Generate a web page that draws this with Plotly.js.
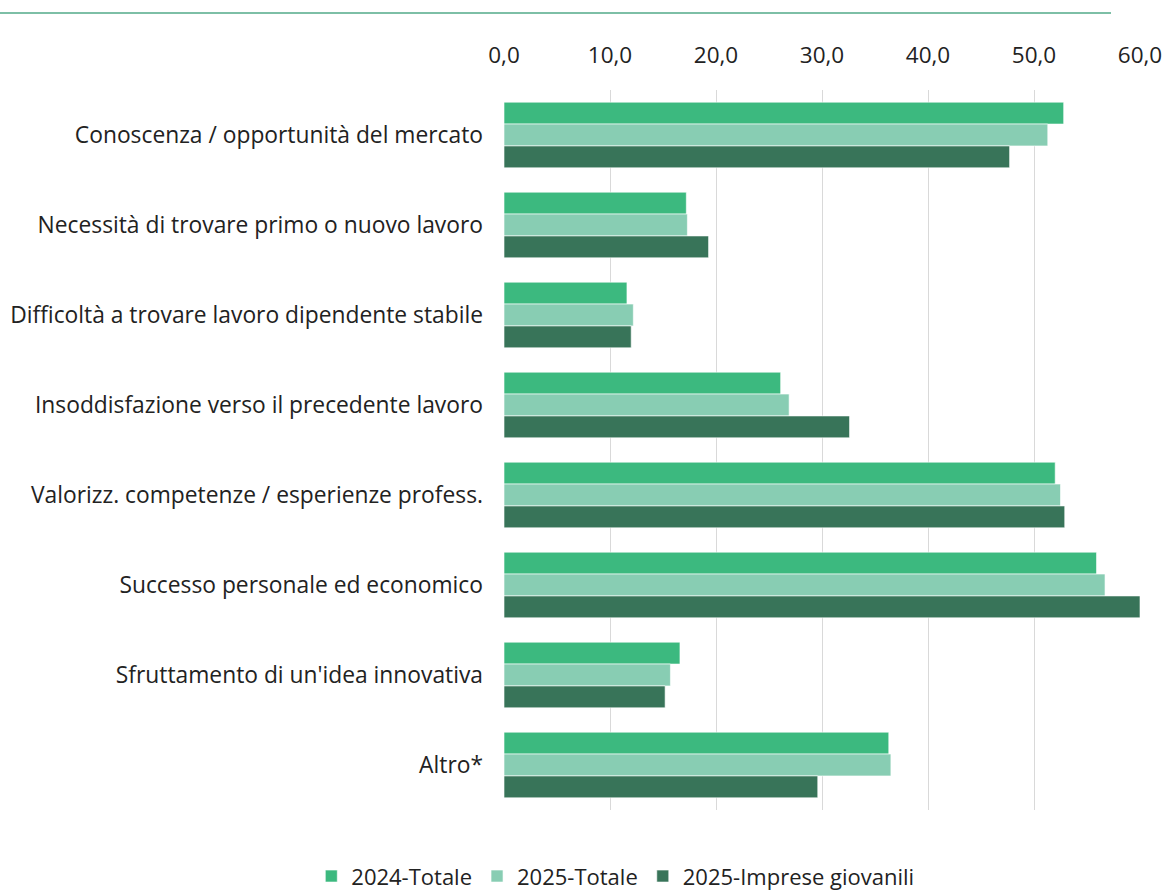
<!DOCTYPE html>
<html>
<head>
<meta charset="utf-8">
<script src="https://cdn.plot.ly/plotly-3.0.1.min.js"></script>
<style>html,body{margin:0;padding:0;background:#fff;}#chart{width:1166px;height:893px;}</style>
</head>
<body>
<div id="chart"></div>
<script>
const categories = [
  "Conoscenza / opportunità del mercato",
  "Necessità di trovare primo o nuovo lavoro",
  "Difficoltà a trovare lavoro dipendente stabile",
  "Insoddisfazione verso il precedente lavoro",
  "Valorizz. competenze / esperienze profess.",
  "Successo personale ed economico",
  "Sfruttamento di un'idea innovativa",
  "Altro*"
];
const seriesNames = ["2024-Totale", "2025-Totale", "2025-Imprese giovanili"];
const values2024 = [52.8, 17.2, 11.6, 26.1, 52.0, 55.9, 16.6, 36.3];
const values2025 = [51.3, 17.3, 12.2, 26.9, 52.5, 56.7, 15.7, 36.5];
const valuesGiovani = [47.7, 19.3, 12.0, 32.6, 52.9, 60.0, 15.2, 29.6];
const tickVals = [0, 10, 20, 30, 40, 50, 60];

const colors = ["#3cb97f", "#88cdb3", "#387459"];
const allValues = [values2024, values2025, valuesGiovani];

const traces = allValues.map((v, i) => ({
  type: "bar",
  orientation: "h",
  name: seriesNames[i],
  y: categories,
  x: v,
  marker: {color: colors[i], line: {color: "rgba(255,255,255,0.6)", width: 1}},
  hoverinfo: "x+y"
}));

const font = "'Open Sans', sans-serif";
const fs = 22.5;
const layout = {
  width: 1166,
  height: 893,
  margin: {l: 504, r: 26, t: 90, b: 83, autoexpand: false},
  barmode: "group",
  bargap: 0.27,
  bargroupgap: 0,
  separators: ",.",
  paper_bgcolor: "#fff",
  plot_bgcolor: "#fff",
  font: {family: font, size: fs, color: "#222"},
  xaxis: {
    side: "top",
    range: [0, 60],
    tickvals: tickVals,
    tickformat: ".1f",
    showgrid: true,
    gridcolor: "#d9d9d9",
    gridwidth: 1,
    zeroline: false,
    showline: false,
    ticks: "",
    ticklabelstandoff: 22,
    automargin: false,
    tickfont: {size: fs, color: "#222", family: font}
  },
  yaxis: {
    autorange: "reversed",
    type: "category",
    showgrid: false,
    zeroline: false,
    showline: false,
    ticks: "",
    automargin: false,
    ticklabelstandoff: 20,
    tickfont: {size: 22.8, color: "#222", family: font}
  },
  legend: {
    orientation: "h",
    x: 0.175,
    xanchor: "center",
    y: -0.092,
    yanchor: "middle",
    font: {size: 22, color: "#222", family: font},
    itemwidth: 30,
    traceorder: "normal"
  },
  showlegend: true,
  shapes: [{
    type: "line",
    xref: "paper",
    yref: "paper",
    x0: -504/636,
    x1: (1111-504)/636,
    y0: 1 + 77/720,
    y1: 1 + 77/720,
    line: {color: "#7dbfa6", width: 2}
  }]
};

Plotly.newPlot("chart", traces, layout, {displayModeBar: false, staticPlot: true});
</script>
</body>
</html>
